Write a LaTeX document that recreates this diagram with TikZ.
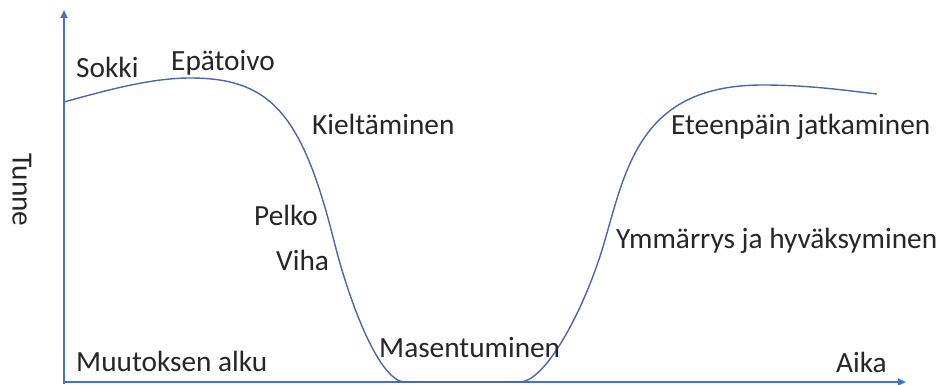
\documentclass[tikz,border=0pt]{standalone}
\usepackage{fontspec}
\setmainfont{Carlito}
\usetikzlibrary{arrows.meta}
\definecolor{axisblue}{RGB}{68,114,196}
\definecolor{curveblue}{RGB}{72,104,170}
\tikzset{
  phase/.style={anchor=base west, inner sep=0pt, text=black!85, font=\fontsize{29.3}{32}\selectfont},
  axisline/.style={draw=axisblue, line width=1.6pt, -{Triangle[length=8pt,width=7pt]}}
}
\begin{document}
\begin{tikzpicture}[x=1pt, y=-1pt]
  \useasboundingbox (0,0) rectangle (940,385);
  % axes
  \coordinate (o) at (64,382);
  \coordinate (ytop) at (64,10);
  \coordinate (xend) at (906,382);
  \draw[axisline] (64,384) -- (ytop);
  \draw[axisline] (o) -- (xend);
  % change curve
  \draw[curveblue, line width=1.4pt] (64,102)
    .. controls (104,91) and (150,78) .. (190,78)
    .. controls (270,78) and (302,113) .. (334,241)
    .. controls (350,305) and (380,382) .. (405,382)
    -- (520,382)
    .. controls (545,382) and (585,310) .. (605,240)
    .. controls (627,163) and (643,85) .. (763,85)
    .. controls (810,85) and (850,91) .. (877,94);
  % labels
  \node[phase] (sokki) at (76,78) {Sokki};
  \node[phase] (epatoivo) at (171,71) {Epätoivo};
  \node[phase] (kieltaminen) at (312,135) {Kieltäminen};
  \node[phase] (pelko) at (254,225) {Pelko};
  \node[phase] (viha) at (276,270) {Viha};
  \node[phase] (masentuminen) at (379,357) {Masentuminen};
  \node[phase] (alku) at (76,371) {Muutoksen alku};
  \node[phase] (aika) at (836,372) {Aika};
  \node[phase] (eteenpain) at (671,135) {Eteenpäin jatkaminen};
  \node[phase] (ymmarrys) at (616,248) {Ymmärrys ja hyväksyminen};
  \node[rotate=-90, text=black!85, font=\fontsize{29.3}{32}\selectfont] (tunne) at (22,190) {Tunne};
\end{tikzpicture}
\end{document}
